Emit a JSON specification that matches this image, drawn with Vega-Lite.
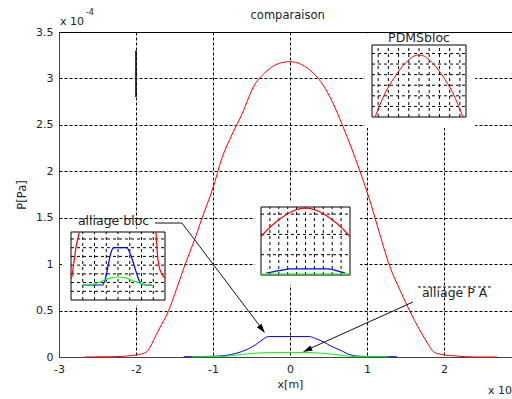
{
  "$schema": "https://vega.github.io/schema/vega-lite/v6.json",
  "width": 453,
  "height": 325,
  "autosize": {"type": "none"},
  "padding": {"left": 59, "top": 32, "right": 0, "bottom": 42},
  "background": "white",
  "config": {
    "font": "DejaVu Sans",
    "view": {"stroke": "#000", "strokeWidth": 1}
  },
  "datasets": {
    "main": [
      {"s": "PDMSbloc", "x": -2.67, "y": 0.0},
      {"s": "PDMSbloc", "x": -2.3, "y": 0.003},
      {"s": "PDMSbloc", "x": -2.1, "y": 0.012},
      {"s": "PDMSbloc", "x": -1.95, "y": 0.03},
      {"s": "PDMSbloc", "x": -1.87, "y": 0.05},
      {"s": "PDMSbloc", "x": -1.82, "y": 0.1},
      {"s": "PDMSbloc", "x": -1.76, "y": 0.2},
      {"s": "PDMSbloc", "x": -1.7, "y": 0.3},
      {"s": "PDMSbloc", "x": -1.58, "y": 0.49},
      {"s": "PDMSbloc", "x": -1.47, "y": 0.74},
      {"s": "PDMSbloc", "x": -1.36, "y": 1.0},
      {"s": "PDMSbloc", "x": -1.24, "y": 1.26},
      {"s": "PDMSbloc", "x": -1.14, "y": 1.5},
      {"s": "PDMSbloc", "x": -1.0, "y": 1.82},
      {"s": "PDMSbloc", "x": -0.88, "y": 2.15},
      {"s": "PDMSbloc", "x": -0.75, "y": 2.4},
      {"s": "PDMSbloc", "x": -0.62, "y": 2.62},
      {"s": "PDMSbloc", "x": -0.48, "y": 2.9},
      {"s": "PDMSbloc", "x": -0.3, "y": 3.08},
      {"s": "PDMSbloc", "x": -0.15, "y": 3.16},
      {"s": "PDMSbloc", "x": 0.0, "y": 3.18},
      {"s": "PDMSbloc", "x": 0.15, "y": 3.15},
      {"s": "PDMSbloc", "x": 0.3, "y": 3.06},
      {"s": "PDMSbloc", "x": 0.43, "y": 2.93},
      {"s": "PDMSbloc", "x": 0.55, "y": 2.75},
      {"s": "PDMSbloc", "x": 0.68, "y": 2.5},
      {"s": "PDMSbloc", "x": 0.8, "y": 2.25},
      {"s": "PDMSbloc", "x": 0.91, "y": 2.0},
      {"s": "PDMSbloc", "x": 1.04, "y": 1.68},
      {"s": "PDMSbloc", "x": 1.14, "y": 1.4},
      {"s": "PDMSbloc", "x": 1.3, "y": 0.97},
      {"s": "PDMSbloc", "x": 1.43, "y": 0.72},
      {"s": "PDMSbloc", "x": 1.56, "y": 0.49},
      {"s": "PDMSbloc", "x": 1.68, "y": 0.3},
      {"s": "PDMSbloc", "x": 1.78, "y": 0.16},
      {"s": "PDMSbloc", "x": 1.86, "y": 0.06},
      {"s": "PDMSbloc", "x": 1.95, "y": 0.03},
      {"s": "PDMSbloc", "x": 2.17, "y": 0.01},
      {"s": "PDMSbloc", "x": 2.4, "y": 0.0},
      {"s": "PDMSbloc", "x": 2.69, "y": 0.0},
      {"s": "alliage bloc", "x": -1.38, "y": 0.003},
      {"s": "alliage bloc", "x": -1.0, "y": 0.008},
      {"s": "alliage bloc", "x": -0.85, "y": 0.015},
      {"s": "alliage bloc", "x": -0.7, "y": 0.04},
      {"s": "alliage bloc", "x": -0.56, "y": 0.08},
      {"s": "alliage bloc", "x": -0.45, "y": 0.13},
      {"s": "alliage bloc", "x": -0.35, "y": 0.19},
      {"s": "alliage bloc", "x": -0.28, "y": 0.22},
      {"s": "alliage bloc", "x": 0.25, "y": 0.22},
      {"s": "alliage bloc", "x": 0.33, "y": 0.2},
      {"s": "alliage bloc", "x": 0.43, "y": 0.165},
      {"s": "alliage bloc", "x": 0.55, "y": 0.11},
      {"s": "alliage bloc", "x": 0.65, "y": 0.075},
      {"s": "alliage bloc", "x": 0.78, "y": 0.025},
      {"s": "alliage bloc", "x": 0.9, "y": 0.008},
      {"s": "alliage bloc", "x": 1.39, "y": 0.003},
      {"s": "alliage P A", "x": -1.28, "y": 0.003},
      {"s": "alliage P A", "x": -0.9, "y": 0.005},
      {"s": "alliage P A", "x": -0.75, "y": 0.015},
      {"s": "alliage P A", "x": -0.6, "y": 0.03},
      {"s": "alliage P A", "x": -0.45, "y": 0.042},
      {"s": "alliage P A", "x": -0.2, "y": 0.048},
      {"s": "alliage P A", "x": 0.2, "y": 0.048},
      {"s": "alliage P A", "x": 0.4, "y": 0.042},
      {"s": "alliage P A", "x": 0.55, "y": 0.03},
      {"s": "alliage P A", "x": 0.7, "y": 0.015},
      {"s": "alliage P A", "x": 0.85, "y": 0.005},
      {"s": "alliage P A", "x": 1.28, "y": 0.003}
    ],
    "pdms": [
      {"s": "PDMSbloc", "x": -4.3, "y": 0.0},
      {"s": "PDMSbloc", "x": -3.8, "y": 1.2},
      {"s": "PDMSbloc", "x": -3.3, "y": 2.3},
      {"s": "PDMSbloc", "x": -2.8, "y": 3.15},
      {"s": "PDMSbloc", "x": -2.2, "y": 4.05},
      {"s": "PDMSbloc", "x": -1.6, "y": 4.8},
      {"s": "PDMSbloc", "x": -1.0, "y": 5.4},
      {"s": "PDMSbloc", "x": -0.5, "y": 5.75},
      {"s": "PDMSbloc", "x": 0.0, "y": 5.85},
      {"s": "PDMSbloc", "x": 0.5, "y": 5.75},
      {"s": "PDMSbloc", "x": 1.0, "y": 5.4},
      {"s": "PDMSbloc", "x": 1.6, "y": 4.8},
      {"s": "PDMSbloc", "x": 2.2, "y": 4.05},
      {"s": "PDMSbloc", "x": 2.8, "y": 3.15},
      {"s": "PDMSbloc", "x": 3.3, "y": 2.3},
      {"s": "PDMSbloc", "x": 3.8, "y": 1.2},
      {"s": "PDMSbloc", "x": 4.3, "y": 0.0}
    ],
    "central": [
      {"s": "PDMSbloc", "x": -1.0, "y": 1.89},
      {"s": "PDMSbloc", "x": -0.8, "y": 2.35},
      {"s": "PDMSbloc", "x": -0.6, "y": 2.72},
      {"s": "PDMSbloc", "x": -0.4, "y": 3.02},
      {"s": "PDMSbloc", "x": -0.2, "y": 3.22},
      {"s": "PDMSbloc", "x": 0.0, "y": 3.29},
      {"s": "PDMSbloc", "x": 0.2, "y": 3.22},
      {"s": "PDMSbloc", "x": 0.4, "y": 3.02},
      {"s": "PDMSbloc", "x": 0.6, "y": 2.72},
      {"s": "PDMSbloc", "x": 0.8, "y": 2.35},
      {"s": "PDMSbloc", "x": 1.0, "y": 1.89},
      {"s": "alliage bloc", "x": -0.88, "y": 0.1},
      {"s": "alliage bloc", "x": -0.7, "y": 0.17},
      {"s": "alliage bloc", "x": -0.5, "y": 0.25},
      {"s": "alliage bloc", "x": -0.35, "y": 0.3},
      {"s": "alliage bloc", "x": 0.5, "y": 0.3},
      {"s": "alliage bloc", "x": 0.65, "y": 0.24},
      {"s": "alliage bloc", "x": 0.8, "y": 0.15},
      {"s": "alliage bloc", "x": 0.89, "y": 0.1},
      {"s": "alliage P A", "x": -1.0, "y": 0.05},
      {"s": "alliage P A", "x": 1.0, "y": 0.05}
    ],
    "left": [
      {"s": "PDMSbloc", "g": "a", "x": -3.29, "y": 7.8},
      {"s": "PDMSbloc", "g": "a", "x": -3.57, "y": 6.1},
      {"s": "PDMSbloc", "g": "a", "x": -3.8, "y": 3.83},
      {"s": "PDMSbloc", "g": "a", "x": -3.94, "y": 2.6},
      {"s": "PDMSbloc", "g": "a", "x": -4.0, "y": 2.5},
      {"s": "PDMSbloc", "g": "b", "x": 3.23, "y": 7.8},
      {"s": "PDMSbloc", "g": "b", "x": 3.35, "y": 5.37},
      {"s": "PDMSbloc", "g": "b", "x": 3.57, "y": 3.45},
      {"s": "PDMSbloc", "g": "b", "x": 4.0, "y": 2.5},
      {"s": "alliage bloc", "g": "c", "x": -3.0, "y": 1.72},
      {"s": "alliage bloc", "g": "c", "x": -1.3, "y": 1.72},
      {"s": "alliage bloc", "g": "c", "x": -1.1, "y": 2.3},
      {"s": "alliage bloc", "g": "c", "x": -0.9, "y": 3.5},
      {"s": "alliage bloc", "g": "c", "x": -0.7, "y": 4.9},
      {"s": "alliage bloc", "g": "c", "x": -0.5, "y": 5.8},
      {"s": "alliage bloc", "g": "c", "x": -0.35, "y": 6.0},
      {"s": "alliage bloc", "g": "c", "x": 0.75, "y": 6.0},
      {"s": "alliage bloc", "g": "c", "x": 0.95, "y": 5.6},
      {"s": "alliage bloc", "g": "c", "x": 1.25, "y": 4.5},
      {"s": "alliage bloc", "g": "c", "x": 1.55, "y": 3.2},
      {"s": "alliage bloc", "g": "c", "x": 1.8, "y": 2.2},
      {"s": "alliage bloc", "g": "c", "x": 2.1, "y": 1.75},
      {"s": "alliage bloc", "g": "c", "x": 2.9, "y": 1.72},
      {"s": "alliage P A", "g": "d", "x": -3.0, "y": 1.72},
      {"s": "alliage P A", "g": "d", "x": -2.3, "y": 1.75},
      {"s": "alliage P A", "g": "d", "x": -1.5, "y": 2.1},
      {"s": "alliage P A", "g": "d", "x": -0.7, "y": 2.5},
      {"s": "alliage P A", "g": "d", "x": 0.0, "y": 2.64},
      {"s": "alliage P A", "g": "d", "x": 0.7, "y": 2.5},
      {"s": "alliage P A", "g": "d", "x": 1.5, "y": 2.1},
      {"s": "alliage P A", "g": "d", "x": 2.4, "y": 1.75},
      {"s": "alliage P A", "g": "d", "x": 2.9, "y": 1.72}
    ],
    "arrows": [
      {"id": "bloc", "o": 1, "x": -1.754, "y": 1.443},
      {"id": "bloc", "o": 2, "x": -1.403, "y": 1.443},
      {"id": "bloc", "o": 3, "x": -0.36, "y": 0.3},
      {"id": "pa", "o": 1, "x": 1.598, "y": 0.592},
      {"id": "pa", "o": 2, "x": 0.2, "y": 0.068}
    ],
    "tips": [
      {"id": "bloc", "x": -0.325, "y": 0.258},
      {"id": "pa", "x": 0.169, "y": 0.054}
    ]
  },
  "layer": [
    {
      "layer": [
        {
          "data": {"name": "main"},
          "mark": {"type": "line", "strokeWidth": 1, "interpolate": "monotone"},
          "encoding": {
            "x": {
              "field": "x", "type": "quantitative",
              "scale": {"domain": [-3, 2.885], "nice": false, "zero": false},
              "axis": {
                "values": [-3, -2, -1, 0, 1, 2],
                "labelExpr": "'' + datum.value",
                "title": "x[m]",
                "grid": true, "gridColor": "#000", "gridDash": [3, 2], "gridOpacity": 1, "gridWidth": 1,
                "ticks": false, "tickSize": 0,
                "labelPadding": 6, "labelFontSize": 11, "labelColor": "#222", "labelFont": "DejaVu Sans", "labelFlush": false,
                "titleFont": "DejaVu Sans", "titleFontSize": 11, "titleFontWeight": "normal", "titleColor": "#222",
                "titlePadding": 4, "titleX": 231,
                "domainColor": "#444"
              }
            },
            "y": {
              "field": "y", "type": "quantitative",
              "scale": {"domain": [0, 3.5], "nice": false, "zero": false},
              "axis": {
                "values": [0, 0.5, 1, 1.5, 2, 2.5, 3, 3.5],
                "labelExpr": "'' + datum.value",
                "title": "P[Pa]",
                "grid": true, "gridColor": "#000", "gridDash": [3, 2], "gridOpacity": 1, "gridWidth": 1,
                "ticks": false, "tickSize": 0,
                "labelPadding": 6, "labelFontSize": 11, "labelColor": "#222", "labelFont": "DejaVu Sans", "labelFlush": false,
                "titleFont": "DejaVu Sans", "titleFontSize": 11.5, "titleFontWeight": "normal", "titleColor": "#222",
                "titlePadding": 8,
                "domainColor": "#444"
              }
            },
            "color": {
              "field": "s", "type": "nominal",
              "scale": {"domain": ["PDMSbloc", "alliage bloc", "alliage P A"], "range": ["#ff0000", "#0000ff", "#00ff00"]},
              "legend": null
            }
          }
        },
        {
          "data": {"values": [{"x": -2, "y": 2.8, "y2": 3.3}]},
          "mark": {"type": "rule", "color": "#000", "strokeWidth": 1.5},
          "encoding": {
            "x": {"field": "x", "type": "quantitative"},
            "y": {"field": "y", "type": "quantitative"},
            "y2": {"field": "y2"}
          }
        },
        {
          "data": {"name": "arrows"},
          "mark": {"type": "line", "color": "#111", "strokeWidth": 1},
          "encoding": {
            "x": {"field": "x", "type": "quantitative"},
            "y": {"field": "y", "type": "quantitative"},
            "detail": {"field": "id"},
            "order": {"field": "o"}
          }
        },
        {
          "data": {"name": "tips"},
          "transform": [{"filter": "datum.id == 'bloc'"}],
          "mark": {"type": "point", "shape": "M0,0L-0.6,2L0.6,2Z", "filled": true, "color": "#000", "opacity": 1, "size": 90, "angle": 143},
          "encoding": {
            "x": {"field": "x", "type": "quantitative"},
            "y": {"field": "y", "type": "quantitative"}
          }
        },
        {
          "data": {"name": "tips"},
          "transform": [{"filter": "datum.id == 'pa'"}],
          "mark": {"type": "point", "shape": "M0,0L-0.6,2L0.6,2Z", "filled": true, "color": "#000", "opacity": 1, "size": 90, "angle": 245},
          "encoding": {
            "x": {"field": "x", "type": "quantitative"},
            "y": {"field": "y", "type": "quantitative"}
          }
        },
        {
          "data": {"values": [{"x": 1.663, "x2": 2.625, "y": 0.754}]},
          "mark": {"type": "rule", "color": "#000", "strokeDash": [3, 2], "strokeWidth": 1},
          "encoding": {
            "x": {"field": "x", "type": "quantitative"},
            "x2": {"field": "x2"},
            "y": {"field": "y", "type": "quantitative"}
          }
        },
        {
          "data": {"values": [{"t": "alliage bloc", "x": -2.754, "y": 1.421}, {"t": "alliage P A", "x": 1.715, "y": 0.641}]},
          "mark": {"type": "text", "align": "left", "baseline": "alphabetic", "fontSize": 12.5, "color": "#222", "font": "DejaVu Sans"},
          "encoding": {
            "x": {"field": "x", "type": "quantitative"},
            "y": {"field": "y", "type": "quantitative"},
            "text": {"field": "t"}
          }
        },
        {
          "data": {"values": [{"t": "comparaison", "x": -0.03, "y": 3.64}]},
          "mark": {"type": "text", "align": "center", "baseline": "alphabetic", "fontSize": 11.5, "color": "#222", "font": "DejaVu Sans"},
          "encoding": {
            "x": {"field": "x", "type": "quantitative"},
            "y": {"field": "y", "type": "quantitative"},
            "text": {"field": "t"}
          }
        },
        {
          "data": {"values": [{"t": "x 10", "x": -2.988, "y": 3.575}, {"t": "x 10", "x": 2.572, "y": -0.398}]},
          "mark": {"type": "text", "align": "left", "baseline": "alphabetic", "fontSize": 11, "color": "#222", "font": "DejaVu Sans"},
          "encoding": {
            "x": {"field": "x", "type": "quantitative"},
            "y": {"field": "y", "type": "quantitative"},
            "text": {"field": "t"}
          }
        },
        {
          "data": {"values": [{"t": "-4", "x": -2.65, "y": 3.683}]},
          "mark": {"type": "text", "align": "left", "baseline": "alphabetic", "fontSize": 8, "color": "#222", "font": "DejaVu Sans"},
          "encoding": {
            "x": {"field": "x", "type": "quantitative"},
            "y": {"field": "y", "type": "quantitative"},
            "text": {"field": "t"}
          }
        }
      ]
    },
    {
      "layer": [
        {
          "data": {"values": [{}]},
          "mark": {"type": "rect", "fill": "white"},
          "encoding": {
            "x": {"datum": -5.3, "type": "quantitative", "scale": {"domain": [-4.6, 4.6], "range": [313, 407], "nice": false, "zero": false}, "axis": null},
            "x2": {"datum": 5.5},
            "y": {"datum": -1.04, "type": "quantitative", "scale": {"domain": [0, 6.8], "range": [85, 13], "nice": false, "zero": false}, "axis": null},
            "y2": {"datum": 7.9}
          }
        },
        {
          "data": {"values": [{"v": -4}, {"v": -3}, {"v": -2}, {"v": -1}, {"v": 0}, {"v": 1}, {"v": 2}, {"v": 3}, {"v": 4}]},
          "mark": {"type": "rule", "color": "#000", "strokeDash": [3, 3], "strokeWidth": 1},
          "encoding": {
            "x": {"field": "v", "type": "quantitative", "scale": {"domain": [-4.6, 4.6], "range": [313, 407], "nice": false, "zero": false}, "axis": null},
            "y": {"datum": 0, "type": "quantitative", "scale": {"domain": [0, 6.8], "range": [85, 13], "nice": false, "zero": false}, "axis": null},
            "y2": {"datum": 6.8}
          }
        },
        {
          "data": {"values": [{"v": 1}, {"v": 2}, {"v": 3}, {"v": 4}, {"v": 5}, {"v": 6}]},
          "mark": {"type": "rule", "color": "#000", "strokeDash": [3, 3], "strokeWidth": 1},
          "encoding": {
            "y": {"field": "v", "type": "quantitative", "scale": {"domain": [0, 6.8], "range": [85, 13], "nice": false, "zero": false}, "axis": null},
            "x": {"datum": -4.6, "type": "quantitative", "scale": {"domain": [-4.6, 4.6], "range": [313, 407], "nice": false, "zero": false}, "axis": null},
            "x2": {"datum": 4.6}
          }
        },
        {
          "data": {"values": [{}]},
          "mark": {"type": "rect", "fill": "transparent", "stroke": "#000", "strokeWidth": 1},
          "encoding": {
            "x": {"datum": -4.6, "type": "quantitative", "scale": {"domain": [-4.6, 4.6], "range": [313, 407], "nice": false, "zero": false}, "axis": null},
            "x2": {"datum": 4.6},
            "y": {"datum": 0, "type": "quantitative", "scale": {"domain": [0, 6.8], "range": [85, 13], "nice": false, "zero": false}, "axis": null},
            "y2": {"datum": 6.8}
          }
        },
        {
          "data": {"name": "pdms"},
          "mark": {"type": "line", "strokeWidth": 1, "interpolate": "monotone"},
          "encoding": {
            "x": {"field": "x", "type": "quantitative", "scale": {"domain": [-4.6, 4.6], "range": [313, 407], "nice": false, "zero": false}, "axis": null},
            "y": {"field": "y", "type": "quantitative", "scale": {"domain": [0, 6.8], "range": [85, 13], "nice": false, "zero": false}, "axis": null},
            "color": {"field": "s", "type": "nominal", "scale": {"domain": ["PDMSbloc", "alliage bloc", "alliage P A"], "range": ["#ff0000", "#0000ff", "#00ff00"]}, "legend": null}
          }
        },
        {
          "data": {"values": [{"t": "PDMSbloc"}]},
          "mark": {"type": "text", "align": "center", "baseline": "alphabetic", "fontSize": 12.5, "color": "#222", "font": "DejaVu Sans"},
          "encoding": {
            "x": {"datum": 0, "type": "quantitative", "scale": {"domain": [-4.6, 4.6], "range": [313, 407], "nice": false, "zero": false}, "axis": null},
            "y": {"datum": 7.1, "type": "quantitative", "scale": {"domain": [0, 6.8], "range": [85, 13], "nice": false, "zero": false}, "axis": null},
            "text": {"field": "t"}
          }
        }
      ]
    },
    {
      "layer": [
        {
          "data": {"values": [{}]},
          "mark": {"type": "rect", "fill": "white"},
          "encoding": {
            "x": {"datum": -1.135, "type": "quantitative", "scale": {"domain": [-1, 1], "range": [202, 291], "nice": false, "zero": false}, "axis": null},
            "x2": {"datum": 1.225},
            "y": {"datum": -0.49, "type": "quantitative", "scale": {"domain": [0, 3.35], "range": [243, 175], "nice": false, "zero": false}, "axis": null},
            "y2": {"datum": 3.6}
          }
        },
        {
          "data": {"values": [{"v": -0.8}, {"v": -0.6}, {"v": -0.4}, {"v": -0.2}, {"v": 0}, {"v": 0.2}, {"v": 0.4}, {"v": 0.6}, {"v": 0.8}]},
          "mark": {"type": "rule", "color": "#000", "strokeDash": [3, 3], "strokeWidth": 1},
          "encoding": {
            "x": {"field": "v", "type": "quantitative", "scale": {"domain": [-1, 1], "range": [202, 291], "nice": false, "zero": false}, "axis": null},
            "y": {"datum": 0, "type": "quantitative", "scale": {"domain": [0, 3.35], "range": [243, 175], "nice": false, "zero": false}, "axis": null},
            "y2": {"datum": 3.35}
          }
        },
        {
          "data": {"values": [{"v": 1}, {"v": 2}, {"v": 3}]},
          "mark": {"type": "rule", "color": "#000", "strokeDash": [3, 3], "strokeWidth": 1},
          "encoding": {
            "y": {"field": "v", "type": "quantitative", "scale": {"domain": [0, 3.35], "range": [243, 175], "nice": false, "zero": false}, "axis": null},
            "x": {"datum": -1, "type": "quantitative", "scale": {"domain": [-1, 1], "range": [202, 291], "nice": false, "zero": false}, "axis": null},
            "x2": {"datum": 1}
          }
        },
        {
          "data": {"values": [{}]},
          "mark": {"type": "rect", "fill": "transparent", "stroke": "#000", "strokeWidth": 1},
          "encoding": {
            "x": {"datum": -1, "type": "quantitative", "scale": {"domain": [-1, 1], "range": [202, 291], "nice": false, "zero": false}, "axis": null},
            "x2": {"datum": 1},
            "y": {"datum": 0, "type": "quantitative", "scale": {"domain": [0, 3.35], "range": [243, 175], "nice": false, "zero": false}, "axis": null},
            "y2": {"datum": 3.35}
          }
        },
        {
          "data": {"name": "central"},
          "mark": {"type": "line", "strokeWidth": 1.2, "interpolate": "monotone"},
          "encoding": {
            "x": {"field": "x", "type": "quantitative", "scale": {"domain": [-1, 1], "range": [202, 291], "nice": false, "zero": false}, "axis": null},
            "y": {"field": "y", "type": "quantitative", "scale": {"domain": [0, 3.35], "range": [243, 175], "nice": false, "zero": false}, "axis": null},
            "color": {"field": "s", "type": "nominal", "scale": {"domain": ["PDMSbloc", "alliage bloc", "alliage P A"], "range": ["#ff0000", "#0000ff", "#00ff00"]}, "legend": null}
          }
        }
      ]
    },
    {
      "layer": [
        {
          "data": {"values": [{}]},
          "mark": {"type": "rect", "fill": "white"},
          "encoding": {
            "x": {"datum": -4.77, "type": "quantitative", "scale": {"domain": [-4, 4], "range": [12, 106], "nice": false, "zero": false}, "axis": null},
            "x2": {"datum": 4.3},
            "y": {"datum": -0.57, "type": "quantitative", "scale": {"domain": [0, 7.8], "range": [268, 200], "nice": false, "zero": false}, "axis": null},
            "y2": {"datum": 8.16}
          }
        },
        {
          "data": {"values": [{"v": -3}, {"v": -2}, {"v": -1}, {"v": 0}, {"v": 1}, {"v": 2}, {"v": 3}]},
          "mark": {"type": "rule", "color": "#000", "strokeDash": [3, 3], "strokeWidth": 1},
          "encoding": {
            "x": {"field": "v", "type": "quantitative", "scale": {"domain": [-4, 4], "range": [12, 106], "nice": false, "zero": false}, "axis": null},
            "y": {"datum": 0, "type": "quantitative", "scale": {"domain": [0, 7.8], "range": [268, 200], "nice": false, "zero": false}, "axis": null},
            "y2": {"datum": 7.8}
          }
        },
        {
          "data": {"values": [{"v": 1}, {"v": 2}, {"v": 3}, {"v": 4}, {"v": 5}, {"v": 6}, {"v": 7}]},
          "mark": {"type": "rule", "color": "#000", "strokeDash": [3, 3], "strokeWidth": 1},
          "encoding": {
            "y": {"field": "v", "type": "quantitative", "scale": {"domain": [0, 7.8], "range": [268, 200], "nice": false, "zero": false}, "axis": null},
            "x": {"datum": -4, "type": "quantitative", "scale": {"domain": [-4, 4], "range": [12, 106], "nice": false, "zero": false}, "axis": null},
            "x2": {"datum": 4}
          }
        },
        {
          "data": {"values": [{}]},
          "mark": {"type": "rect", "fill": "transparent", "stroke": "#000", "strokeWidth": 1},
          "encoding": {
            "x": {"datum": -4, "type": "quantitative", "scale": {"domain": [-4, 4], "range": [12, 106], "nice": false, "zero": false}, "axis": null},
            "x2": {"datum": 4},
            "y": {"datum": 0, "type": "quantitative", "scale": {"domain": [0, 7.8], "range": [268, 200], "nice": false, "zero": false}, "axis": null},
            "y2": {"datum": 7.8}
          }
        },
        {
          "data": {"name": "left"},
          "mark": {"type": "line", "strokeWidth": 1.2, "interpolate": "monotone"},
          "encoding": {
            "x": {"field": "x", "type": "quantitative", "scale": {"domain": [-4, 4], "range": [12, 106], "nice": false, "zero": false}, "axis": null},
            "y": {"field": "y", "type": "quantitative", "scale": {"domain": [0, 7.8], "range": [268, 200], "nice": false, "zero": false}, "axis": null},
            "color": {"field": "s", "type": "nominal", "scale": {"domain": ["PDMSbloc", "alliage bloc", "alliage P A"], "range": ["#ff0000", "#0000ff", "#00ff00"]}, "legend": null},
            "detail": {"field": "g"}
          }
        }
      ]
    }
  ],
  "resolve": {"scale": {"x": "independent", "y": "independent"}}
}
